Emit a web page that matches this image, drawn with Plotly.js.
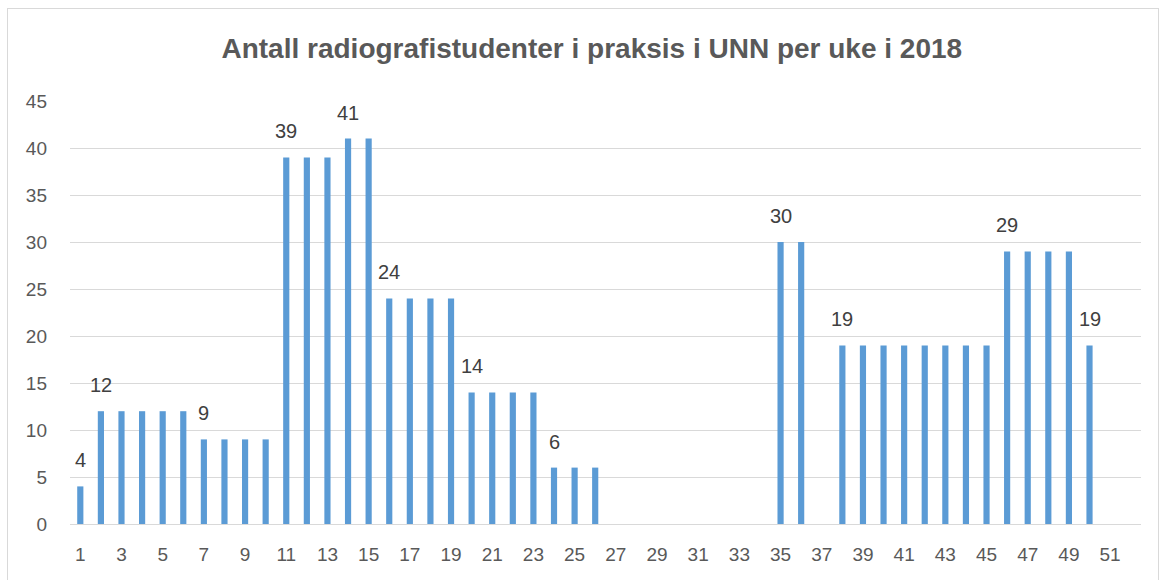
<!DOCTYPE html>
<html>
<head>
<meta charset="utf-8">
<script src="https://cdn.plot.ly/plotly-3.0.1.min.js"></script>
<style>
html,body{margin:0;padding:0;background:#fff;}
#wrap{position:relative;width:1165px;height:580px;}
#frame{position:absolute;left:7px;top:8px;width:1152px;height:580px;border:1px solid #D9D9D9;box-sizing:border-box;pointer-events:none;}
#chart{position:absolute;left:0;top:0;width:1165px;height:580px;}
</style>
</head>
<body>
<div id="wrap"><div id="chart"></div><div id="frame"></div></div>
<script>
// Weeks 1..52
const weeks = Array.from({length: 52}, (_, i) => String(i + 1));
const students = [
  4, 12, 12, 12, 12, 12, 9, 9, 9, 9,
  39, 39, 39, 41, 41, 24, 24, 24, 24, 14,
  14, 14, 14, 6, 6, 6, null, null, null, null,
  null, null, null, null, 30, 30, null, 19, 19, 19,
  19, 19, 19, 19, 19, 29, 29, 29, 29, 19,
  null, null
];
// Weeks that carry a data label
const labelWeeks = ["1", "2", "7", "11", "14", "16", "20", "24", "35", "38", "46", "50"];
const tickLabels = weeks.filter((w, i) => i % 2 === 0);

const annotations = labelWeeks.map(w => {
  const idx = weeks.indexOf(w);
  return {
    x: idx,
    y: students[idx],
    text: String(students[idx]),
    showarrow: false,
    yanchor: 'bottom',
    yshift: 13,
    font: {family: 'Liberation Sans, Arial, sans-serif', size: 20, color: '#404040'}
  };
});

const trace = {
  type: 'bar',
  x: weeks,
  y: students,
  marker: {color: '#5B9BD5'},
  hoverinfo: 'x+y'
};

const layout = {
  width: 1165,
  height: 580,
  margin: {l: 70, r: 24, t: 101, b: 56},
  paper_bgcolor: '#ffffff',
  plot_bgcolor: '#ffffff',
  bargap: 0.7,
  showlegend: false,
  title: {
    text: '<b>Antall radiografistudenter i praksis i UNN per uke i 2018</b>',
    x: 0.508,
    xanchor: 'center',
    y: 0.917,
    yanchor: 'middle',
    font: {family: 'Liberation Sans, Arial, sans-serif', size: 28, color: '#595959'}
  },
  xaxis: {
    type: 'category',
    tickvals: tickLabels,
    ticktext: tickLabels,
    showgrid: false,
    showline: true,
    linecolor: '#D9D9D9',
    linewidth: 1,
    ticks: '',
    ticklabelstandoff: 13,
    tickfont: {family: 'Liberation Sans, Arial, sans-serif', size: 19, color: '#595959'},
    fixedrange: true
  },
  yaxis: {
    range: [0, 45],
    dtick: 5,
    tick0: 0,
    showgrid: true,
    gridcolor: '#D9D9D9',
    gridwidth: 1,
    zeroline: false,
    showline: false,
    ticks: '',
    ticklabelstandoff: 22,
    tickfont: {family: 'Liberation Sans, Arial, sans-serif', size: 19, color: '#595959'},
    fixedrange: true
  },
  annotations: annotations
};

Plotly.newPlot('chart', [trace], layout, {displayModeBar: false, staticPlot: true});
</script>
</body>
</html>
